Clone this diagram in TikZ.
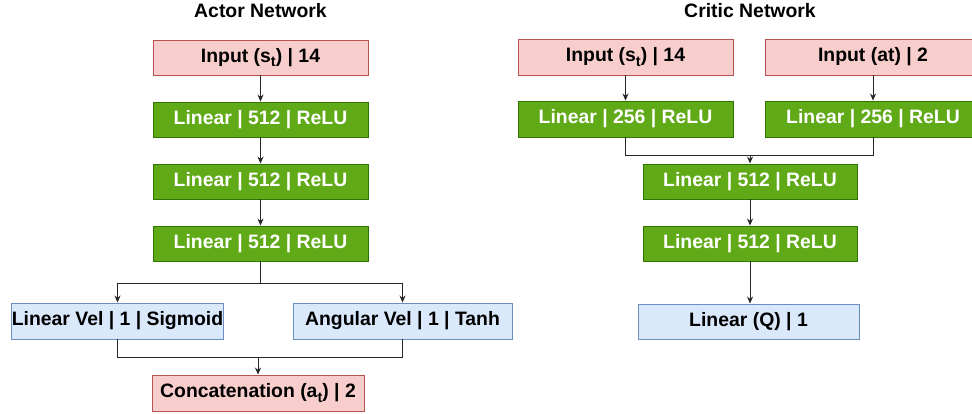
\documentclass[tikz,border=0pt]{standalone}
\usepackage{fontspec}
\setmainfont{Liberation Sans}
\usetikzlibrary{arrows.meta}
\definecolor{pinkfill}{HTML}{F8CECC}
\definecolor{pinkline}{HTML}{B85450}
\definecolor{greenfill}{HTML}{60A917}
\definecolor{greenline}{HTML}{2D7600}
\definecolor{bluefill}{HTML}{DAE8FC}
\definecolor{blueline}{HTML}{6C8EBF}
\definecolor{wire}{HTML}{262626}
\newcommand{\lowsub}[1]{\raisebox{-0.45ex}{\fontsize{14.5}{14.5}\selectfont #1}}
\tikzset{
  layer/.style={rectangle, inner sep=0pt, minimum height=35pt, line width=0.9pt,
    font=\fontsize{19.4}{21}\selectfont\bfseries},
  inbox/.style={layer, fill=pinkfill, draw=pinkline, text=black},
  hidbox/.style={layer, fill=greenfill, draw=greenline, text=white},
  outbox/.style={layer, fill=bluefill, draw=blueline, text=black},
  title/.style={font=\fontsize{19.4}{21}\selectfont\bfseries},
  flow/.style={draw=wire, line width=0.9pt},
  arr/.style={flow, -{Stealth[length=7pt,width=6pt]}}
}
\begin{document}
\begin{tikzpicture}[x=1pt,y=-1pt]
\useasboundingbox (0,0) rectangle (972,414);
\clip (0,0) rectangle (972,414);

% Actor network
\node[title] (atitle) at (260.5,11) {Actor Network};
\node[inbox, minimum width=215pt] (ain) at (260.5,57.5) {Input (s\lowsub{t}) | 14};
\node[hidbox, minimum width=215pt] (a1) at (260.5,119.5) {Linear | 512 | ReLU};
\node[hidbox, minimum width=215pt] (a2) at (260.5,181.5) {Linear | 512 | ReLU};
\node[hidbox, minimum width=215pt] (a3) at (260.5,243.5) {Linear | 512 | ReLU};
\node[outbox, minimum width=211pt, minimum height=36pt] (vel) at (117.5,321) {Linear Vel | 1 | Sigmoid};
\node[outbox, minimum width=219pt, minimum height=36pt] (ang) at (402.5,321) {Angular Vel | 1 | Tanh};
\node[inbox, minimum width=212pt, minimum height=36pt] (cat) at (258,393) {Concatenation (a\lowsub{t}) | 2};

\draw[arr] (ain) -- (a1);
\draw[arr] (a1) -- (a2);
\draw[arr] (a2) -- (a3);
\coordinate (split) at (260.5,283);
\draw[arr] (a3.south) -- (split) -| (vel.north);
\draw[arr] (split) -| (ang.north);
\coordinate (join) at (258,357);
\draw[flow] (vel.south) |- (join);
\draw[flow] (ang.south) |- (join);
\draw[arr] (join) -- (cat.north);

% Critic network
\node[title] (ctitle) at (750,11) {Critic Network};
\node[inbox, minimum width=215pt, minimum height=36pt] (cs) at (625.5,57) {Input (s\lowsub{t}) | 14};
\node[inbox, minimum width=215pt, minimum height=36pt] (ca) at (873,57) {Input (at) | 2};
\node[hidbox, minimum width=215pt, minimum height=36pt] (c1s) at (625.5,119) {Linear | 256 | ReLU};
\node[hidbox, minimum width=215pt, minimum height=36pt] (c1a) at (873,119) {Linear | 256 | ReLU};
\node[hidbox, minimum width=214pt] (c2) at (750,181.5) {Linear | 512 | ReLU};
\node[hidbox, minimum width=214pt] (c3) at (750,243.5) {Linear | 512 | ReLU};
\node[outbox, minimum width=221pt] (q) at (748.5,321.5) {Linear (Q) | 1};

\draw[arr] (cs) -- (c1s);
\draw[arr] (ca) -- (c1a);
\coordinate (merge) at (750,155);
\draw[flow] (c1s.south) |- (merge);
\draw[flow] (c1a.south) |- (merge);
\draw[arr] (merge) -- (c2.north);
\draw[arr] (c2) -- (c3);
\draw[arr] (c3.south) -- (c3.south |- q.north);
\end{tikzpicture}
\end{document}
